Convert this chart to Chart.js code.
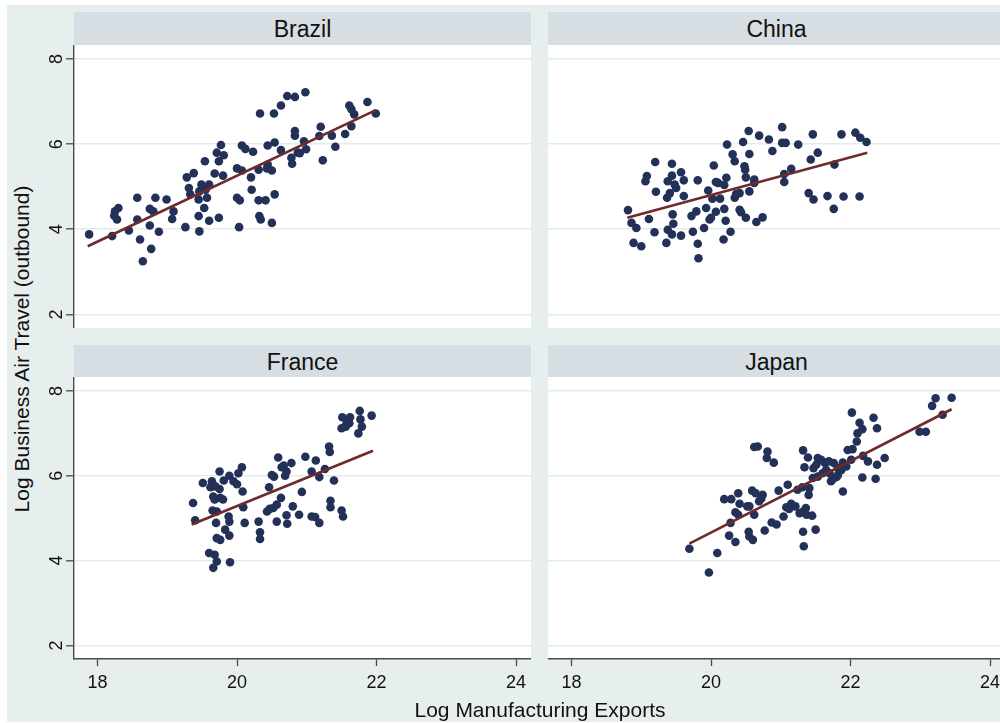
<!DOCTYPE html>
<html><head><meta charset="utf-8">
<script src="https://cdn.jsdelivr.net/npm/chart.js@4.4.0/dist/chart.umd.min.js"></script>
<style>
html,body{margin:0;padding:0;width:1000px;height:723px;overflow:hidden;background:#fff;font-family:"Liberation Sans",Arial,Helvetica,sans-serif;}
#bg{position:absolute;left:7px;top:5px;width:1000px;height:717px;background:#e7eeee;}
.strip{position:absolute;height:33px;background:#d6dde3;color:#111;font-size:23px;line-height:34px;text-align:center;}
canvas{position:absolute;}
.title{position:absolute;color:#111;font-size:21px;white-space:nowrap;}
</style></head><body>
<div id="bg"></div>
<div id="root"></div>
<script>
// ---- data ----
const panels = ['Brazil', 'China', 'France', 'Japan'];
const xTicks = [18, 20, 22, 24];
const yTicks = [2, 4, 6, 8];
const xTitle = 'Log Manufacturing Exports';
const yTitle = 'Log Business Air Travel (outbound)';

const brazilX = [17.88,18.21,18.45,18.61,18.77,18.65,18.75,18.88,18.57,18.28,18.25,18.30,18.57,18.83,18.99,18.75,18.80,19.09,19.07,19.26,19.46,19.45,19.60,19.74,19.53,19.31,19.33,19.28,19.38,19.46,19.49,19.55,19.60,19.57,19.45,19.68,19.80,19.54,19.71,19.77,19.74,19.81,20.00,20.07,20.20,20.21,20.00,20.04,20.03,20.07,20.12,20.23,20.31,20.43,20.50,20.44,20.54,20.63,20.31,20.41,20.54,20.32,20.34,20.50,20.33,20.53,20.63,20.72,20.83,20.98,20.83,20.83,20.96,20.99,20.87,20.78,20.79,21.20,21.18,21.36,21.41,21.55,21.61,21.64,21.68,21.64,21.87,21.99,21.23,20.44,20.90,18.24];
const brazilY = [3.88,3.84,3.97,3.76,3.54,3.25,4.09,3.94,4.23,4.23,4.42,4.50,4.74,4.74,4.70,4.48,4.42,4.42,4.24,4.05,3.95,4.31,4.20,4.27,4.50,4.97,4.82,5.22,5.32,4.89,5.05,4.93,5.05,4.74,4.70,5.31,5.26,5.60,5.80,5.98,5.60,5.74,5.43,5.38,5.22,4.93,4.74,4.68,4.05,5.97,5.89,5.82,5.40,5.43,5.38,5.97,6.04,5.86,4.68,4.68,4.82,4.31,4.23,4.15,6.72,6.72,6.91,7.13,7.11,7.22,6.31,6.20,6.07,5.88,5.80,5.68,5.54,6.41,6.19,6.20,5.94,6.24,6.91,6.82,6.70,6.42,6.99,6.72,5.62,5.52,5.79,4.32];
const brazilFitX = [17.86, 21.99];
const brazilFitY = [3.60, 6.80];

const chinaX = [18.81,18.86,18.93,18.89,19.00,19.11,19.21,19.20,19.06,19.08,19.19,19.36,19.38,19.44,19.46,19.45,19.37,19.41,19.38,19.44,19.44,19.50,19.48,19.57,19.61,19.61,19.57,19.74,19.81,19.82,19.72,19.79,19.90,19.93,19.81,20.04,19.96,20.02,20.00,20.07,20.23,20.54,20.69,20.83,21.02,21.02,21.07,20.88,20.46,20.55,20.31,20.34,20.48,20.49,20.22,20.10,20.19,20.50,20.62,20.62,20.55,20.36,20.41,20.34,20.13,20.19,20.07,19.98,20.21,20.41,20.43,20.50,20.65,20.74,20.28,20.18,21.05,21.05,21.15,21.25,21.46,21.53,21.43,21.77,21.87,22.07,22.14,22.23,21.40,21.47,21.67,21.90,22.13,21.76];
const chinaY = [4.45,4.15,4.03,3.68,3.60,4.24,4.88,5.58,5.13,5.25,3.93,3.68,3.99,3.88,4.13,4.35,4.74,4.85,5.13,5.26,5.54,4.97,5.05,5.34,5.15,4.78,3.85,3.94,3.66,3.32,4.31,4.42,4.03,4.50,5.15,5.50,4.91,4.72,4.27,5.11,5.99,6.31,6.20,6.11,6.40,6.03,6.03,5.84,6.05,5.77,5.76,5.60,5.48,5.40,5.21,5.09,5.04,5.22,5.17,5.09,4.89,4.83,4.85,4.74,4.72,4.48,4.41,4.23,4.20,4.46,4.40,4.27,4.17,4.28,3.94,3.76,5.30,5.11,5.42,5.99,6.23,5.80,5.64,5.52,6.23,6.27,6.15,6.05,4.85,4.70,4.78,4.77,4.77,4.48];
const chinaFitX = [18.80, 22.24];
const chinaFitY = [4.27, 5.80];

const franceX = [19.37,19.40,19.51,19.64,19.62,19.69,19.75,19.75,19.81,19.89,19.95,20.00,20.02,20.07,20.08,19.66,19.68,19.76,19.80,19.65,19.71,19.70,19.88,19.89,20.09,20.11,19.83,19.89,19.71,19.76,19.60,19.68,19.71,19.66,19.90,20.31,20.33,20.33,20.46,20.50,20.53,20.59,20.64,20.67,20.71,20.69,20.78,20.98,21.13,21.07,20.93,20.43,20.47,20.52,20.57,20.63,20.57,20.71,20.72,20.80,20.89,21.07,21.12,21.18,21.32,21.33,21.26,21.18,21.39,21.34,21.34,21.50,21.52,21.51,21.62,21.57,21.50,21.56,21.61,21.76,21.77,21.79,21.74,21.93];
const franceY = [5.36,4.95,5.83,5.87,5.73,5.75,5.69,6.10,5.89,6.00,5.87,5.80,6.06,6.20,5.63,5.51,5.44,5.48,5.44,5.18,5.16,4.89,5.04,4.92,5.26,4.89,4.73,4.59,4.53,4.49,4.18,4.14,3.98,3.83,3.96,4.92,4.67,4.51,5.73,6.02,5.98,6.43,6.20,6.24,6.10,6.00,6.30,6.45,6.36,6.10,5.62,5.16,5.22,5.24,5.32,5.48,4.92,5.07,4.87,5.28,5.08,5.04,5.03,4.89,6.69,6.56,6.16,5.97,5.89,5.41,5.26,5.18,5.04,7.38,7.38,7.24,7.12,7.16,7.24,7.53,7.33,7.16,7.00,7.42];
const franceFitX = [19.35, 21.95];
const franceFitY = [4.85, 6.59];

const japanX = [19.69,19.97,20.09,20.19,20.29,20.39,20.41,20.52,20.55,20.35,20.39,20.28,20.26,20.35,20.54,20.55,20.60,20.59,20.64,20.74,20.69,20.72,20.62,20.62,20.67,20.81,20.80,20.90,20.97,21.10,20.77,20.87,20.94,21.04,21.08,21.15,21.12,21.21,21.24,21.31,21.27,21.32,21.37,21.36,21.45,21.32,21.50,21.33,21.32,21.39,21.34,21.40,21.41,21.47,21.51,21.53,21.58,21.63,21.69,21.76,21.82,21.46,21.53,21.60,21.74,21.80,21.65,22.02,22.33,22.13,22.17,22.10,22.38,22.09,21.96,22.03,22.18,22.25,22.38,22.49,21.89,21.94,21.87,21.82,21.70,21.72,22.01,22.17,22.36,21.89,22.99,23.08,23.17,23.22,23.32,23.45];
const japanY = [4.28,3.72,4.18,5.45,5.45,5.59,5.34,5.28,5.28,5.14,5.08,4.89,4.59,4.44,4.68,4.57,4.49,5.65,5.59,5.55,5.40,5.46,5.08,6.68,6.69,6.57,6.42,6.31,5.65,5.79,4.71,4.90,4.85,5.04,5.26,5.34,5.22,5.28,5.67,5.73,5.12,5.16,5.08,5.24,5.06,4.68,4.73,4.34,6.60,6.43,6.20,5.55,5.71,6.18,6.26,6.42,6.38,6.31,6.34,6.30,6.18,5.95,5.98,6.06,5.91,5.97,6.14,7.49,7.37,7.25,7.10,7.00,7.12,6.81,6.61,6.63,6.47,6.34,6.26,6.42,6.31,6.22,6.14,6.02,6.06,5.87,6.38,5.96,5.93,5.63,7.04,7.04,7.65,7.83,7.44,7.84];
const japanFitX = [19.69, 23.45];
const japanFitY = [4.40, 7.57];

// ---- style / layout ----
const DOT = '#233158';
const LINE = '#702a2c';
const AXIS = '#4a4a4a';
const GRID = '#e3ebeb';
const TXT = '#111111';
const FONT = '"Liberation Sans", Arial, Helvetica, sans-serif';
const X_MIN = 17.663, X_MAX = 24.215, Y_MIN = 1.68, Y_MAX = 8.33;

const root = document.getElementById('root');
function addDiv(cls, css, text) {
  const d = document.createElement('div');
  d.className = cls; d.style.cssText = css; d.textContent = text; root.appendChild(d); return d;
}

const whitePlot = {
  id: 'whitePlot',
  beforeDraw(chart) {
    const a = chart.chartArea, c = chart.ctx;
    c.save(); c.fillStyle = '#ffffff'; c.fillRect(a.left, a.top, a.right - a.left, a.bottom - a.top); c.restore();
  }
};

function makeChart(cfg) {
  const cv = document.createElement('canvas');
  cv.width = cfg.w; cv.height = cfg.h;
  cv.style.left = cfg.left + 'px'; cv.style.top = cfg.top + 'px';
  cv.style.width = cfg.w + 'px'; cv.style.height = cfg.h + 'px';
  root.appendChild(cv);
  const pts = cfg.xs.map((x, i) => ({x: x, y: cfg.ys[i]}));
  const fit = cfg.fx.map((x, i) => ({x: x, y: cfg.fy[i]}));
  new Chart(cv, {
    type: 'scatter',
    data: { datasets: [
      { type: 'line', data: fit, borderColor: LINE, borderWidth: 2.6, pointRadius: 0, fill: false, tension: 0 },
      { type: 'scatter', data: pts, backgroundColor: DOT, borderWidth: 0, pointRadius: 4.3, pointHoverRadius: 4.3 }
    ]},
    options: {
      responsive: false, animation: false, events: [],
      devicePixelRatio: 1,
      layout: { padding: 0, autoPadding: false },
      plugins: { legend: { display: false }, tooltip: { enabled: false } },
      scales: {
        x: {
          type: 'linear', position: 'bottom', min: X_MIN, max: X_MAX, display: cfg.showX,
          afterBuildTicks: s => { s.ticks = xTicks.map(v => ({value: v})); },
          afterFit: s => { s.height = cfg.showX ? 40 : 0; s.paddingLeft = 0; s.paddingRight = 0; },
          grid: { drawOnChartArea: false, drawTicks: true, tickLength: 7, tickColor: AXIS, tickWidth: 1.3 },
          border: { display: true, color: AXIS, width: 1.4 },
          ticks: { color: TXT, font: { family: FONT, size: 18 }, padding: 6, maxRotation: 0, autoSkip: false,
                   callback: v => String(v) }
        },
        y: {
          type: 'linear', position: 'left', min: Y_MIN, max: Y_MAX, display: true,
          afterBuildTicks: s => { s.ticks = yTicks.map(v => ({value: v})); },
          afterFit: s => { s.width = cfg.showY ? 38 : 0; s.paddingTop = 0; s.paddingBottom = 0; },
          grid: { color: GRID, lineWidth: 1.6, drawTicks: cfg.showY, tickLength: 8, tickColor: AXIS, tickWidth: 1.3 },
          border: { display: cfg.showY, color: AXIS, width: 1.4 },
          ticks: { display: cfg.showY, color: TXT, font: { family: FONT, size: 18 }, minRotation: 90, maxRotation: 90,
                   crossAlign: 'center', padding: 4, autoSkip: false, callback: v => String(v) }
        }
      }
    },
    plugins: [whitePlot]
  });
}

// strips
const stripPos = [[74, 12], [548, 12], [74, 345], [548, 345]];
panels.forEach((p, i) => {
  addDiv('strip', 'left:' + stripPos[i][0] + 'px;top:' + stripPos[i][1] + 'px;width:457px;', p);
});

makeChart({ left: 36, top: 45, w: 495, h: 283, xs: brazilX, ys: brazilY, fx: brazilFitX, fy: brazilFitY, showY: true, showX: false });
makeChart({ left: 548, top: 45, w: 457, h: 283, xs: chinaX, ys: chinaY, fx: chinaFitX, fy: chinaFitY, showY: false, showX: false });
makeChart({ left: 36, top: 377, w: 495, h: 322, xs: franceX, ys: franceY, fx: franceFitX, fy: franceFitY, showY: true, showX: true });
makeChart({ left: 548, top: 377, w: 457, h: 322, xs: japanX, ys: japanY, fx: japanFitX, fy: japanFitY, showY: false, showX: true });

addDiv('title', 'left:540px;top:710px;transform:translate(-50%,-50%);', xTitle);
addDiv('title', 'left:22px;top:349px;transform:translate(-50%,-50%) rotate(-90deg);', yTitle);
</script>
</body></html>
